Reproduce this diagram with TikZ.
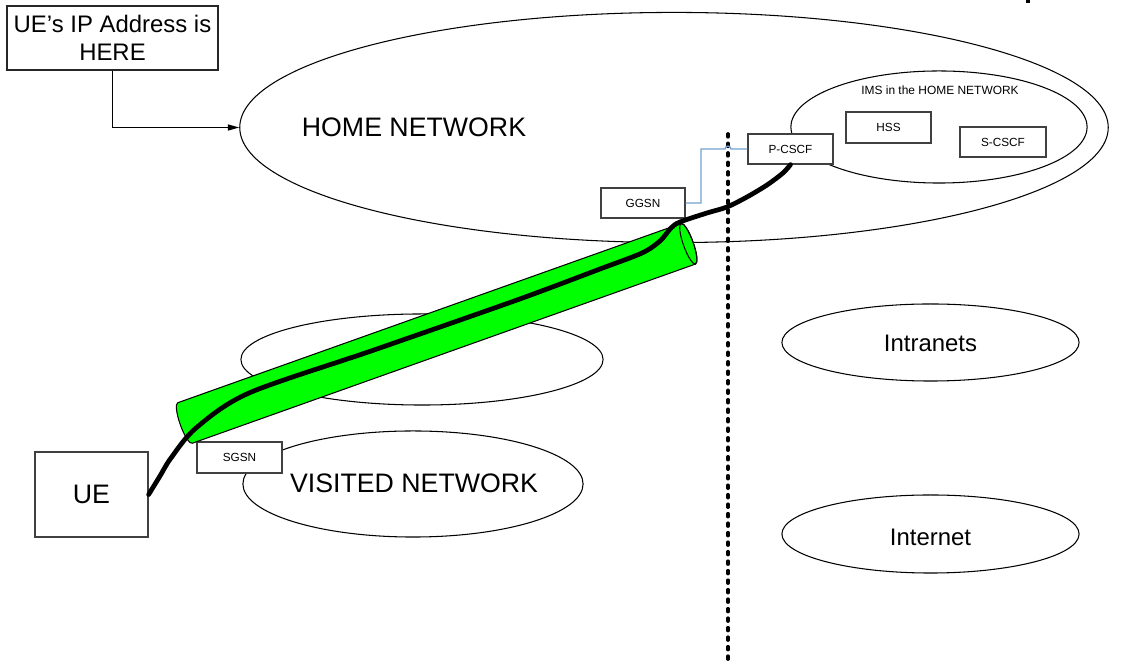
\documentclass[tikz,border=0pt]{standalone}
\usepackage{fontspec}
\setmainfont{Liberation Sans}
\usetikzlibrary{arrows.meta,shapes.geometric}
\definecolor{sigblue}{HTML}{729FCF}
\definecolor{tubegreen}{HTML}{00FF00}
\begin{document}
\begin{tikzpicture}[x=0.01cm,y=-0.01cm,
  box/.style={draw=black!75, line width=0.35pt, fill=white, rectangle, inner sep=0pt},
  netshape/.style={draw=black, line width=0.3pt, ellipse, inner sep=0pt},
  bigtxt/.style={font=\fontsize{7.6}{9}\selectfont},
  midtxt/.style={font=\fontsize{6.8}{8}\selectfont},
  smalltxt/.style={font=\fontsize{3.35}{4}\selectfont},
  tunnel/.style={line width=1.35pt, line cap=round},
  border/.style={line width=1.05pt, line cap=round, dash pattern=on 0.8pt off 1.9pt},
  sigline/.style={draw=sigblue, line width=0.35pt},
]
\useasboundingbox (0,0) rectangle (1123,661);

% networks
\node[netshape, minimum width=86.8mm, minimum height=23mm] (home) at (674,127.5) {};
\node[netshape, minimum width=29.6mm, minimum height=11.2mm] (ims) at (939,127) {};
\node[netshape, minimum width=36.2mm, minimum height=9.1mm] (transit) at (422,359.5) {};
\node[netshape, minimum width=34mm, minimum height=10.6mm] (visited) at (413,484) {};
\node[netshape, minimum width=29.7mm, minimum height=7.7mm] (intranets) at (930.5,342.5) {};
\node[netshape, minimum width=29.7mm, minimum height=7.8mm] (internet) at (930.5,534) {};

% network labels
\node[bigtxt, inner sep=0pt] (homelbl) at (414,127) {HOME NETWORK};
\node[font=\fontsize{3.4}{4}\selectfont, inner sep=0pt] (imslbl) at (940,90) {IMS in the HOME NETWORK};
\node[bigtxt, inner sep=0pt] (visitedlbl) at (414,483) {VISITED NETWORK};
\node[midtxt, inner sep=0pt] (intralbl) at (930.5,343) {Intranets};
\node[midtxt, inner sep=0pt] (netlbl) at (930.5,537) {Internet};

% network elements
\node[box, smalltxt, minimum width=8.5mm, minimum height=3mm] (pcscf) at (790.5,149) {P-CSCF};
\node[box, smalltxt, minimum width=8.5mm, minimum height=3.1mm] (hss) at (888.5,127.5) {HSS};
\node[box, smalltxt, minimum width=8.6mm, minimum height=3mm] (scscf) at (1003,142) {S-CSCF};
\node[box, smalltxt, minimum width=8.4mm, minimum height=3mm] (ggsn) at (643,203) {GGSN};
\node[box, smalltxt, minimum width=8.5mm, minimum height=3.1mm] (sgsn) at (239.5,457.5) {SGSN};
\node[box, bigtxt, minimum width=11.3mm, minimum height=8.5mm] (ue) at (91.5,494.5) {UE};

% boundary between home network and external networks
\coordinate (bordertop) at (728,134);
\coordinate (borderbot) at (728,664);
\draw[border] (bordertop) -- (borderbot);

% signalling link GGSN -> P-CSCF, hopping over the boundary
\draw[sigline] (ggsn.east) -- (701,203) -- (701,149) -- (725,149)
  arc[start angle=180, end angle=0, radius=0.3mm] -- (pcscf.west);

% GTP tunnel
\begin{scope}[shift={(185,423)}, rotate=19.6]
  \filldraw[fill=tubegreen, draw=black, line width=0.3pt]
    (0mm,2.15mm) -- (53.4mm,2.15mm)
    arc[start angle=90, end angle=-90, x radius=0.5mm, y radius=2.15mm]
    -- (0mm,-2.15mm)
    arc[start angle=270, end angle=90, x radius=0.5mm, y radius=2.15mm] -- cycle;
  \draw[line width=0.3pt] (53.4mm,0mm) ellipse [x radius=0.5mm, y radius=2.15mm];
\end{scope}

% bearer from UE to P-CSCF
\draw[tunnel] plot[smooth, tension=0.5] coordinates {
  (ue.east) (160,476) (171,458) (196,428) (249,393) (374,350) (517,300)
  (600,269) (642,253) (660,241) (671,228) (680,222) (707,213) (727,207)
  (747,197) (767,185) (783,173) (pcscf.south)};

% address annotation
\node[box, draw=black!85, midtxt, align=center, minimum width=21.1mm, minimum height=6.4mm] (ipbox) at (112.5,38) {UE’s IP Address is\\HERE};
\draw[line width=0.35pt, -{Triangle[length=3.2pt,width=1.7pt]}] (ipbox.south) |- (home.west);

\fill (1026,0) rectangle (1030,3.5);
\end{tikzpicture}
\end{document}
